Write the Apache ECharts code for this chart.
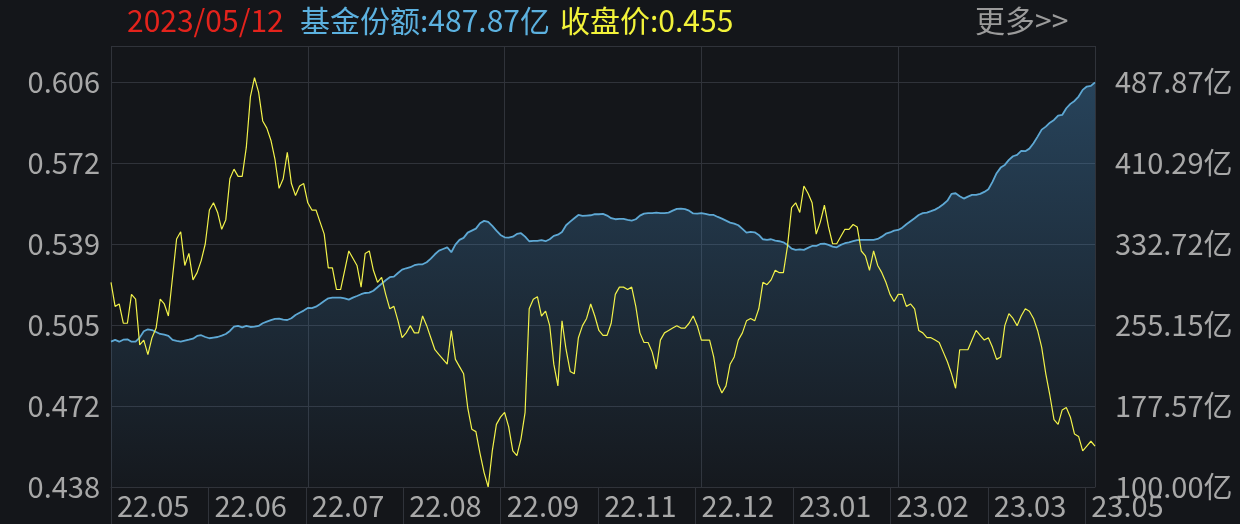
<!DOCTYPE html>
<html><head><meta charset="utf-8">
<script src="https://cdn.jsdelivr.net/npm/echarts@6/dist/echarts.min.js"></script>
<style>html,body{margin:0;padding:0;background:#14161a;}#c{width:1240px;height:524px;}</style>
</head><body><div id="c"></div>
<script>
const lastDate = '2023/05/12';
const monthTicks = ['22.05','22.06','22.07','22.08','22.09','22.11','22.12','23.01','23.02','23.03','23.05'];
const leftTicks = ['0.438','0.472','0.505','0.539','0.572','0.606'];
const rightTicks = ['100.00亿','177.57亿','255.15亿','332.72亿','410.29亿','487.87亿'];

const closePrice = [
0.523,0.513,0.514,0.506,0.506,0.518,0.516,0.497,0.499,0.493,
0.500,0.504,0.516,0.514,0.509,0.525,0.541,0.544,0.530,0.535,
0.524,0.527,0.532,0.539,0.553,0.556,0.552,0.545,0.549,0.566,
0.570,0.567,0.567,0.579,0.600,0.608,0.602,0.590,0.587,0.582,
0.574,0.562,0.566,0.577,0.564,0.559,0.563,0.564,0.556,0.553,
0.553,0.548,0.543,0.529,0.529,0.520,0.520,0.528,0.536,0.533,
0.530,0.521,0.535,0.536,0.528,0.523,0.525,0.518,0.512,0.513,
0.507,0.500,0.502,0.505,0.502,0.502,0.509,0.505,0.500,0.495,
0.493,0.491,0.489,0.503,0.491,0.488,0.485,0.471,0.462,0.461,
0.452,0.444,0.438,0.453,0.464,0.467,0.469,0.463,0.453,0.451,
0.458,0.469,0.512,0.516,0.517,0.509,0.511,0.505,0.489,0.480,
0.507,0.495,0.486,0.485,0.500,0.505,0.508,0.514,0.509,0.503,
0.501,0.501,0.506,0.518,0.521,0.521,0.520,0.521,0.513,0.502,
0.498,0.498,0.494,0.487,0.499,0.502,0.503,0.504,0.505,0.504,
0.504,0.506,0.509,0.505,0.499,0.499,0.499,0.492,0.481,0.477,
0.480,0.489,0.492,0.499,0.502,0.507,0.508,0.507,0.512,0.523,
0.522,0.524,0.528,0.527,0.527,0.538,0.554,0.556,0.552,0.563,
0.560,0.556,0.543,0.548,0.555,0.546,0.539,0.539,0.542,0.545,
0.545,0.547,0.546,0.536,0.534,0.528,0.536,0.530,0.527,0.523,
0.518,0.515,0.518,0.518,0.513,0.514,0.512,0.503,0.502,0.500,
0.500,0.499,0.498,0.494,0.490,0.485,0.479,0.495,0.495,0.495,
0.499,0.503,0.501,0.499,0.500,0.496,0.491,0.492,0.505,0.510,
0.508,0.505,0.509,0.512,0.511,0.508,0.503,0.496,0.485,0.476,
0.466,0.464,0.470,0.471,0.467,0.460,0.459,0.453,0.455,0.457,
0.455
];

const fundShares = [
239.3,241.0,239.3,241.2,241.6,239.3,239.3,243.2,249.3,251.2,
250.5,248.6,246.7,246.0,244.8,241.0,240.0,239.3,240.3,241.2,
242.2,244.8,245.5,243.8,242.6,243.2,243.8,245.1,246.7,249.6,
253.7,254.4,253.1,254.4,253.4,253.7,254.4,257.0,258.5,259.9,
261.1,261.4,260.4,260.1,261.8,264.9,267.1,269.1,271.6,271.4,
272.9,275.5,278.4,280.9,281.5,281.5,281.5,280.9,279.6,281.5,
283.1,284.8,286.0,286.3,288.2,291.5,294.9,298.2,301.1,301.7,
305.2,308.4,309.7,310.7,312.6,313.5,313.5,315.5,318.9,323.1,
326.6,328.2,329.8,325.1,332.3,336.9,338.8,343.9,345.8,347.7,
352.9,355.1,354.1,350.3,345.8,341.6,339.4,339.1,340.0,342.6,
343.3,340.0,335.6,335.9,335.9,336.6,335.6,337.5,340.7,341.9,
344.5,350.9,354.4,357.7,360.8,359.9,360.2,360.5,361.5,361.5,
361.8,360.2,357.7,356.7,357.0,357.0,356.0,355.4,356.7,360.2,
362.1,362.5,362.5,363.0,362.5,362.5,363.0,364.9,366.6,366.9,
366.3,364.9,362.3,362.1,362.5,361.8,360.8,360.8,358.9,357.3,
355.4,353.4,352.5,350.9,347.4,343.9,344.5,344.2,341.6,337.5,
336.9,337.5,336.2,335.6,334.6,332.1,328.5,327.3,327.9,327.3,
329.2,331.1,331.1,333.0,333.3,332.1,330.4,329.8,332.1,333.7,
334.6,335.6,336.6,336.9,336.9,336.9,336.9,337.8,340.0,342.8,
344.0,345.8,346.4,348.6,351.9,354.8,357.7,360.8,362.5,363.0,
364.4,365.9,368.2,371.1,374.5,381.0,381.6,378.8,376.5,378.4,
380.0,380.0,381.0,382.9,385.5,392.5,400.8,406.2,408.8,413.6,
417.1,418.4,422.2,421.9,424.4,429.6,435.9,442.6,445.5,449.3,
451.9,456.0,456.7,463.1,467.3,470.1,474.3,480.7,483.9,484.5,
487.87
];

const FONT = '"Noto Sans CJK SC","Microsoft YaHei",sans-serif';
const FS = 29;
const HFS = 30;
const leftMin = 0.438, leftStep = 0.0336;
const rightMin = 100, rightStep = 77.5735;
const span = 5.45;      // tick steps held by the plot height
const cellSpan = 10.1;  // bottom label cells across the plot width
const gridColor = '#30333a';
const labelColor = '#a8a8a8';
const idx = closePrice.map((_, i) => i);

const chart = echarts.init(document.getElementById('c'), null, {renderer: 'canvas'});
const hdr = (x, text, fill) => ({type: 'text', x: x, y: 21, style: {text: text, fill: fill, font: HFS + 'px ' + FONT, verticalAlign: 'middle'}});

chart.setOption({
  backgroundColor: '#14161a',
  animation: false,
  grid: {left: 111, right: 145, top: 46, bottom: 37},
  graphic: [
    hdr(127, lastDate, '#e3231c'),
    hdr(300, '基金份额:' + fundShares[fundShares.length - 1].toFixed(2) + '亿', '#5cb1df'),
    hdr(560, '收盘价:' + closePrice[closePrice.length - 1].toFixed(3), '#f2f23a'),
    hdr(975, '更多>>', '#9b9b9b')
  ],
  xAxis: [
    {type: 'category', data: idx, boundaryGap: false, position: 'bottom',
     axisLine: {show: true, lineStyle: {color: gridColor}}, axisTick: {show: false}, axisLabel: {show: false},
     splitLine: {show: true, interval: 47, lineStyle: {color: gridColor, width: 1}}},
    {type: 'value', min: 0, max: cellSpan, interval: 1, position: 'bottom',
     axisLine: {show: false}, splitLine: {show: false},
     axisTick: {show: true, length: 37, lineStyle: {color: gridColor}},
     axisLabel: {show: true, showMaxLabel: false, align: 'left', margin: 4, padding: [0, 0, 0, 6],
       formatter: v => monthTicks[Math.round(v)] || '', color: labelColor, fontSize: FS, fontFamily: FONT}}
  ],
  yAxis: [
    {type: 'value', position: 'left', min: leftMin, max: leftMin + leftStep * span, show: false},
    {type: 'value', position: 'right', min: rightMin, max: rightMin + rightStep * span, show: false},
    {type: 'value', position: 'left', min: 0, max: span, interval: 1,
     axisLine: {show: false}, axisTick: {show: false},
     splitLine: {show: true, lineStyle: {color: gridColor, width: 1}},
     axisLabel: {showMaxLabel: false, margin: 11, formatter: v => leftTicks[Math.round(v)] || '',
       color: labelColor, fontSize: FS, fontFamily: FONT}},
    {type: 'value', position: 'right', min: 0, max: span, interval: 1,
     axisLine: {show: false}, axisTick: {show: false}, splitLine: {show: false},
     axisLabel: {showMaxLabel: false, margin: 20, formatter: v => rightTicks[Math.round(v)] || '',
       color: labelColor, fontSize: FS, fontFamily: FONT}}
  ],
  series: [
    {type: 'line', name: '基金份额', xAxisIndex: 0, yAxisIndex: 1, data: fundShares, symbol: 'none', z: 2,
     lineStyle: {color: '#5ea8d4', width: 1.8},
     areaStyle: {color: new echarts.graphic.LinearGradient(0, 0, 0, 1, [
       {offset: 0, color: 'rgba(74,150,210,0.5)'},
       {offset: 1, color: 'rgba(74,150,210,0.03)'}])}},
    {type: 'line', name: '收盘价', xAxisIndex: 0, yAxisIndex: 0, data: closePrice, symbol: 'none', z: 3,
     lineStyle: {color: '#f2f24a', width: 1.2}}
  ]
});
</script></body></html>
